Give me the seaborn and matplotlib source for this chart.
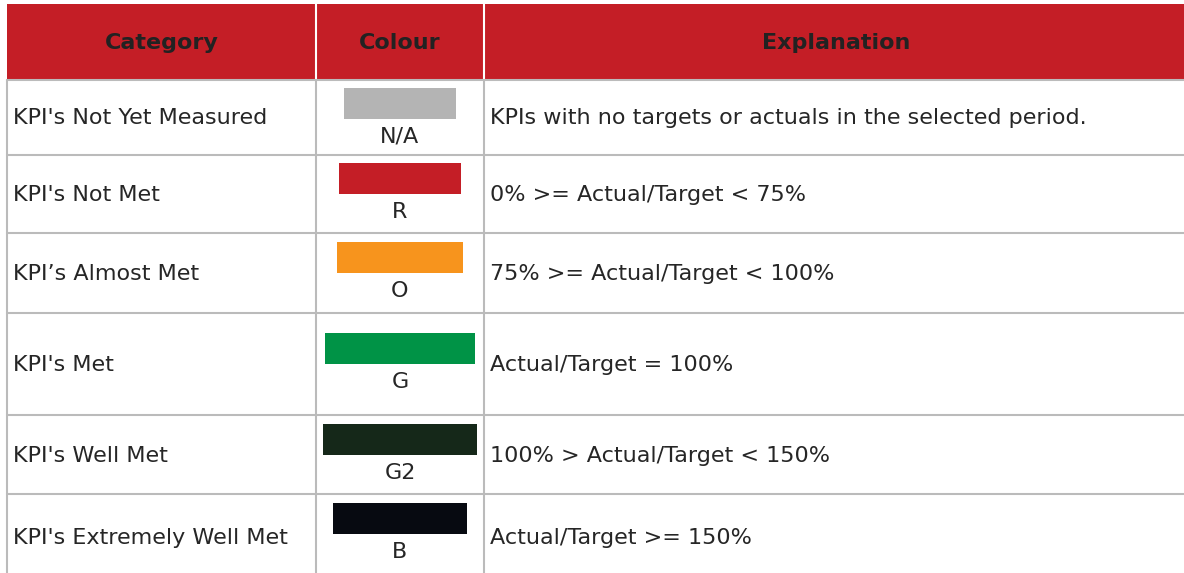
import matplotlib.pyplot as plt
import seaborn as sns

sns.set_theme(style="white")
plt.rcParams['font.family'] = ['DejaVu Sans']

# table content
headers = ["Category", "Colour", "Explanation"]
categories = [
    "KPI's Not Yet Measured",
    "KPI's Not Met",
    "KPI\u2019s Almost Met",
    "KPI's Met",
    "KPI's Well Met",
    "KPI's Extremely Well Met",
]
codes = ["N/A", "R", "O", "G", "G2", "B"]
colours = ["#b4b4b4", "#c41e26", "#f7941d", "#009346", "#152819", "#070a11"]
explanations = [
    "KPIs with no targets or actuals in the selected period.",
    "0% >= Actual/Target < 75%",
    "75% >= Actual/Target < 100%",
    "Actual/Target = 100%",
    "100% > Actual/Target < 150%",
    "Actual/Target >= 150%",
]

# layout in pixels
W, H = 1184, 573
col_edges = [7, 316, 484, 1190]
header_top, header_bottom = 4, 80
row_edges = [80, 155, 233, 313, 415, 494, 580]
swatch_left = [344, 339, 337, 325, 323, 333]
swatch_right = [456, 461, 463, 475, 477, 467]
swatch_top_gap = [8, 8, 9, 20, 9, 9]
swatch_h = 31
header_red = "#c41e26"
grid_grey = "#bbbbbb"
text_col = "#262626"
fs = 16

fig = plt.figure(figsize=(W / 100, H / 100), dpi=100)
ax = fig.add_axes([0, 0, 1, 1])
ax.set_xlim(0, W)
ax.set_ylim(H, 0)
ax.axis("off")

# header band
ax.add_patch(plt.Rectangle((col_edges[0], header_top), W - col_edges[0],
                           header_bottom - header_top, color=header_red, lw=0))
for x in col_edges[1:3]:
    ax.plot([x, x], [header_top, header_bottom], color="white", lw=1.5)
hy = (header_top + header_bottom) / 2 + 1
for i, h in enumerate(headers):
    cx = (col_edges[i] + min(col_edges[i + 1], W + 4)) / 2
    ax.text(cx, hy, h, ha="center", va="center", fontsize=fs,
            fontweight="bold", color="#222222")

# grid lines
for y in row_edges[:-1]:
    ax.plot([col_edges[0], W], [y, y], color=grid_grey, lw=1.5)
for x in col_edges[:3]:
    ax.plot([x, x], [header_bottom, H], color=grid_grey, lw=1.5)

# rows
for i in range(len(categories)):
    top, bot = row_edges[i], row_edges[i + 1]
    mid = (top + bot) / 2 + 1
    ax.text(col_edges[0] + 6, mid, categories[i], ha="left", va="center",
            fontsize=fs, color=text_col)
    ax.text(col_edges[2] + 6, mid, explanations[i], ha="left", va="center",
            fontsize=fs, color=text_col)
    y0 = top + swatch_top_gap[i]
    ax.barh(y0 + swatch_h / 2, swatch_right[i] - swatch_left[i],
            left=swatch_left[i], height=swatch_h, color=colours[i], lw=0)
    ax.text((swatch_left[i] + swatch_right[i]) / 2, y0 + swatch_h + 18,
            codes[i], ha="center", va="center", fontsize=fs, color=text_col)

fig.savefig("out.png", dpi=100)
